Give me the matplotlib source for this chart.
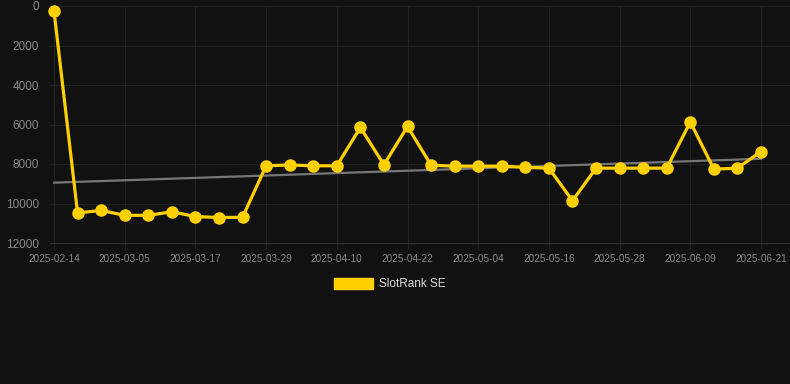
import numpy as np
import matplotlib
matplotlib.use('Agg')
import matplotlib.pyplot as plt
from matplotlib.patches import Patch

# Rank per observation (lower is better, axis is inverted)
rank = [250, 10480, 10350, 10600, 10600, 10420, 10660, 10710, 10700,
        8090, 8050, 8090, 8090, 6150, 8040,
        6100, 8060, 8110, 8110, 8110, 8170, 8210, 9860, 8210, 8210,
        8210, 8210, 5870, 8260, 8210, 7370]
tick_labels = ['2025-02-14', '2025-03-05', '2025-03-17', '2025-03-29',
               '2025-04-10', '2025-04-22', '2025-05-04', '2025-05-16',
               '2025-05-28', '2025-06-09', '2025-06-21']
series_name = 'SlotRank SE'

BG = '#111111'
GOLD = '#FFD000'

W, H = 790, 384
fig = plt.figure(figsize=(W / 100, H / 100), dpi=100, facecolor=BG)
ax = fig.add_axes([50 / W, 1 - 243 / H, (790 - 50) / W, (243 - 6) / H])
ax.set_facecolor(BG)

x = np.arange(len(rank))
y = np.array(rank, dtype=float)

# linear trend
coef = np.polyfit(x, y, 1)
ax.plot(x, np.polyval(coef, x), color='#777777', lw=1.6, zorder=2)

ax.plot(x, y, color=GOLD, lw=2.3, marker='o', ms=8, mfc=GOLD, mec=GOLD,
        zorder=3, clip_on=False)

ax.set_ylim(12000, 0)
ax.set_yticks(range(0, 12001, 2000))
ax.set_xlim(-0.17, 31.23)
ax.set_xticks(x[::3])
ax.set_xticklabels(tick_labels)

ax.grid(True, color='#222222', lw=0.8)
ax.set_axisbelow(True)
for s in ['top', 'right', 'left']:
    ax.spines[s].set_visible(False)
ax.spines['bottom'].set_color('#333333')
ax.tick_params(axis='y', length=0, pad=8, labelsize=8.5, labelcolor='#8a8a8a')
ax.tick_params(axis='x', length=4, color='#222222', pad=4, labelsize=7.2,
               labelcolor='#8a8a8a')
for lab in ax.get_xticklabels() + ax.get_yticklabels():
    lab.set_fontfamily('Liberation Sans')

handle = Patch(facecolor=GOLD, edgecolor=GOLD)
fig.legend([handle], [series_name], loc='center', bbox_to_anchor=(390 / W, 1 - 284 / H),
           frameon=False, handlelength=3.3, handleheight=1.1, handletextpad=0.5,
           prop={'family': 'Liberation Sans', 'size': 8.5}, labelcolor='#dddddd')

fig.savefig('out.png', dpi=100, facecolor=BG)
